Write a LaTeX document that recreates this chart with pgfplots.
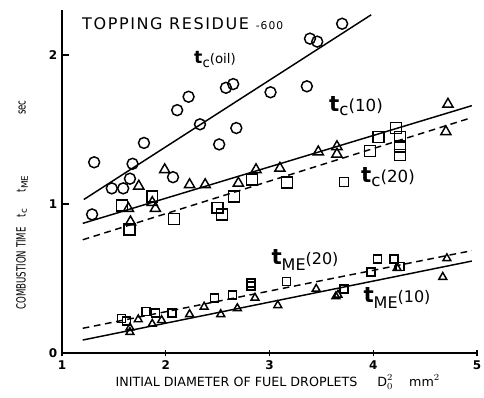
\documentclass[border=0pt]{standalone}
\usepackage{fontspec}
\setmainfont{DejaVu Sans}
\newfontfamily\hand[LetterSpace=10]{DejaVu Sans}
\newfontfamily\condensed[FakeStretch=0.68]{DejaVu Sans}
\usepackage{pgfplots}
\pgfplotsset{compat=1.18}
\newcommand{\tlab}[4]{{\fontsize{#1}{#1}\selectfont\bfseries t}\raisebox{-3pt}{\fontsize{#2}{#2}\selectfont #3}{\fontsize{#2}{#2}\selectfont #4}}
\begin{document}
\begin{tikzpicture}
\begin{axis}[
  at={(0,0)}, anchor=south west,
  scale only axis, width=311.25pt, height=257pt,
  xmin=1, xmax=5, ymin=0, ymax=2.3,
  enlargelimits=false,
  axis lines=left, axis line style={-, line width=1.1pt},
  xtick={1,2,3,4,5}, ytick={0,1,2},
  xtick align=center, ytick align=inside,
  major tick length=5pt,
  tick style={line width=0.9pt, black},
  ticklabel style={font=\bfseries\fontsize{9}{10}\selectfont},
  /pgf/number format/assume math mode=true,
  clip=false,
]
% t_c(oil) circles
\addplot[only marks, mark=o, mark size=4.1pt, mark options={line width=1.1pt}] coordinates {
(1.29,0.93) (1.31,1.28) (1.48,1.105) (1.59,1.105) (1.655,1.17) (1.68,1.27)
(1.79,1.41) (2.07,1.18) (2.11,1.63) (2.22,1.72) (2.33,1.535) (2.515,1.40)
(2.58,1.78) (2.65,1.805) (2.68,1.51) (3.01,1.75) (3.36,1.79) (3.39,2.11)
(3.46,2.09) (3.70,2.21)};
% t_c(10) triangles
\addplot[only marks, mark=triangle, mark size=4.4pt, mark options={line width=1.1pt}] coordinates {
(1.66,0.88) (1.64,0.97) (1.74,1.12) (1.87,1.01) (1.90,0.97) (1.99,1.23)
(2.23,1.13) (2.38,1.13) (2.70,1.14) (2.87,1.23) (3.10,1.24) (3.47,1.35)
(3.65,1.385) (3.65,1.335) (4.70,1.485) (4.72,1.67)};
% t_c(20) squares
\addplot[only marks, mark=square, mark size=4.1pt, mark options={line width=1.1pt}] coordinates {
(1.58,0.99) (1.65,0.83) (1.87,1.05) (2.08,0.90) (2.50,0.975) (2.54,0.93)
(2.66,1.05) (2.83,1.165) (3.17,1.145) (3.97,1.355) (4.05,1.45) (4.22,1.51)
(4.26,1.45) (4.26,1.385) (4.26,1.33)};
% t_ME(20) squares
\addplot[only marks, mark=square, mark size=3pt, mark options={line width=1.1pt}] coordinates {
(1.575,0.233) (1.62,0.215) (1.81,0.28) (1.90,0.27) (2.06,0.27) (2.47,0.37)
(2.645,0.39) (2.82,0.47) (2.82,0.45) (3.165,0.48) (3.72,0.43) (3.98,0.545)
(4.04,0.63) (4.20,0.63) (4.26,0.58)};
% t_ME(10) triangles
\addplot[only marks, mark=triangle, mark size=3.4pt, mark options={line width=1.1pt}] coordinates {
(1.655,0.17) (1.655,0.14) (1.735,0.225) (1.87,0.195) (1.96,0.22) (2.23,0.26)
(2.37,0.31) (2.53,0.26) (2.69,0.30) (2.86,0.37) (3.08,0.32) (3.45,0.43)
(3.64,0.38) (3.66,0.39) (4.23,0.57) (4.67,0.51) (4.71,0.635)};
% fitted lines
\addplot[line width=1.1pt, no marks] coordinates {(1.21,1.03) (3.98,2.27)};
\addplot[line width=1.1pt, no marks] coordinates {(1.2,0.87) (4.95,1.66)};
\addplot[line width=1.1pt, no marks, dash pattern=on 5pt off 3.5pt] coordinates {(1.2,0.76) (4.95,1.58)};
\addplot[line width=1.1pt, no marks] coordinates {(1.2,0.087) (4.95,0.617)};
\addplot[line width=1.1pt, no marks, dash pattern=on 5pt off 3.5pt] coordinates {(1.2,0.166) (4.95,0.687)};
% labels
\node[anchor=west, inner sep=0pt] at (rel axis cs:0.048,0.96) {\hand\fontsize{12}{12}\selectfont TOPPING RESIDUE {\fontsize{8}{8}\selectfont -600}};
\node[inner sep=0pt] at (axis cs:2.475,1.973) {\tlab{13}{10}{c}{(oil)}};
\node[inner sep=0pt] at (axis cs:3.834,1.658) {\tlab{16}{12.5}{c}{(10)}};
\node[inner sep=0pt] at (axis cs:4.142,1.181) {\tlab{16}{12.5}{c}{(20)}};
\node[inner sep=0pt] at (axis cs:3.718,1.148) {\setlength\fboxsep{0pt}\setlength\fboxrule{1pt}\fbox{\rule{0pt}{5.5pt}\hspace{5.5pt}}};
\node[inner sep=0pt] at (axis cs:3.342,0.624) {{\fontsize{16}{16}\selectfont\bfseries t}\raisebox{-4pt}{\fontsize{12}{12}\selectfont ME}{\fontsize{12}{12}\selectfont(20)}};
\node[inner sep=0pt] at (axis cs:4.229,0.369) {{\fontsize{16}{16}\selectfont\bfseries t}\raisebox{-4pt}{\fontsize{12}{12}\selectfont ME}{\fontsize{12}{12}\selectfont(10)}};
\node[inner sep=0pt] at ([yshift=-21.75pt]rel axis cs:0.52,0) {\fontsize{9.5}{10}\selectfont INITIAL DIAMETER OF FUEL DROPLETS\hspace{15pt}D$_{0}^{2}$\hspace{12pt}mm$^{2}$};
\node[inner sep=0pt, rotate=90] at ([xshift=-30pt]rel axis cs:0,0.432) {\condensed\fontsize{9.5}{10}\selectfont COMBUSTION TIME\hspace{7.5pt}t$_{\mathrm{c}}$\hspace{12pt}t$_{\mathrm{ME}}$\hspace{45pt}sec};
\end{axis}
\pgfresetboundingbox
\path[use as bounding box] (-46.5pt,-33.75pt) rectangle (316.5pt,264.75pt);
\end{tikzpicture}
\end{document}
